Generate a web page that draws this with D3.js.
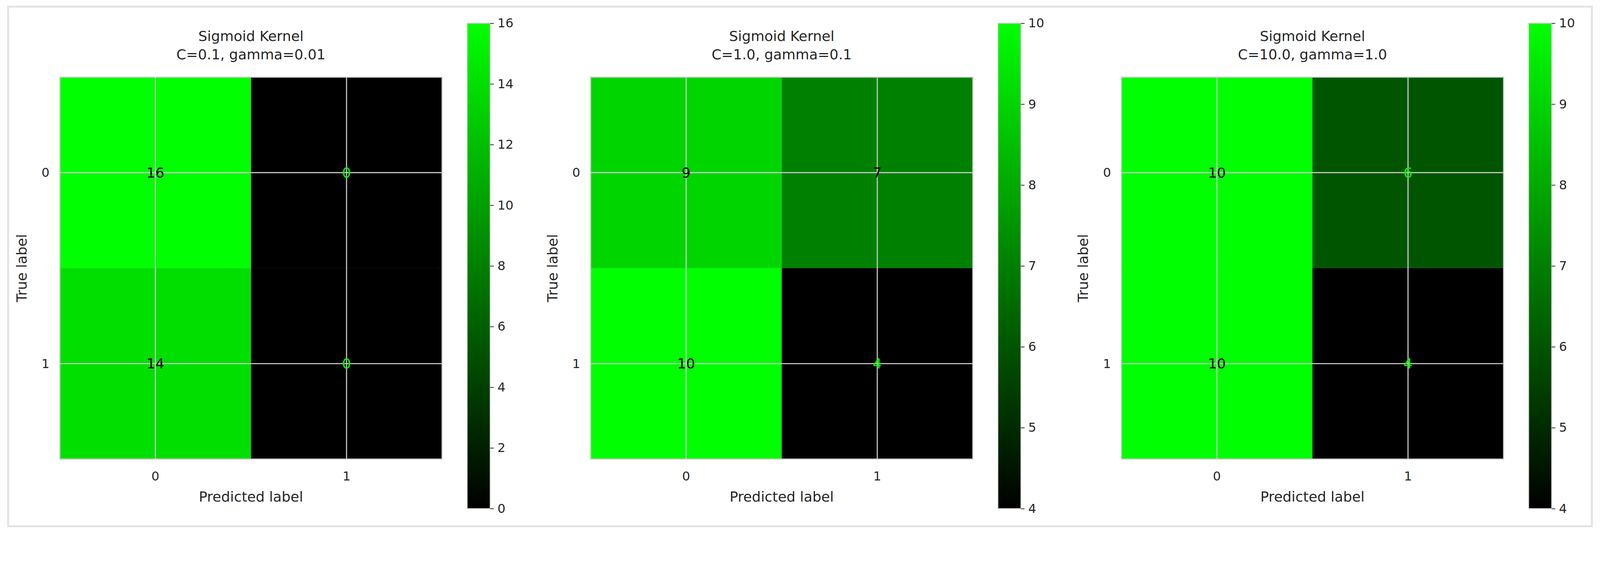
<!DOCTYPE html>
<html><head><meta charset="utf-8">
<script src="https://cdn.jsdelivr.net/npm/d3@7"></script>
<style>html,body{margin:0;padding:0;background:#fff;overflow:hidden;font-family:"DejaVu Sans",sans-serif;}
svg{display:block;width:100vw;height:auto;}</style>
</head><body>
<script>
"use strict";

const titles = ["C=0.1, gamma=0.01", "C=1.0, gamma=0.1", "C=10.0, gamma=1.0"];
const matrices = [
  [[16, 0], [14, 0]],
  [[9, 7], [10, 4]],
  [[10, 6], [10, 4]]
];
const labels = ["0", "1"];

const W = 4332, H = 1468;
const svg = d3.select("body").append("svg")
  .attr("viewBox", `0 0 ${W} ${H}`)
  .attr("preserveAspectRatio", "xMinYMin meet");

svg.append("rect").attr("x", 22).attr("y", 18).attr("width", 4288).attr("height", 1408)
  .attr("fill", "none").attr("stroke", "#e2e2e2").attr("stroke-width", 5);

const panelStep = 1437;
const size = 1035;

matrices.forEach(function(m, p) {
  const ox = 162 + p * panelStep, oy = 209;
  const g = svg.append("g").attr("transform", `translate(${ox},${oy})`);
  const vals = m.flat();
  const vmin = d3.min(vals), vmax = d3.max(vals);
  const color = d3.scaleLinear().domain([vmin, vmax]).range(["#000000", "#00ff00"]);

  const x = d3.scaleBand().domain(labels).range([0, size]);
  const y = d3.scaleBand().domain(labels).range([0, size]);

  m.forEach(function(row, i) {
    row.forEach(function(v, j) {
      g.append("rect").attr("x", x(labels[j])).attr("y", y(labels[i]))
        .attr("width", x.bandwidth()).attr("height", y.bandwidth())
        .attr("fill", color(v));
    });
  });

  // grid lines at tick centres
  labels.forEach(function(l) {
    const c = x(l) + x.bandwidth() / 2;
    g.append("line").attr("x1", c).attr("x2", c).attr("y1", 0).attr("y2", size)
      .attr("stroke", "#c8c8c8").attr("stroke-width", 3);
    g.append("line").attr("y1", c).attr("y2", c).attr("x1", 0).attr("x2", size)
      .attr("stroke", "#c8c8c8").attr("stroke-width", 3);
  });
  g.append("rect").attr("width", size).attr("height", size)
    .attr("fill", "none").attr("stroke", "#d0d0d0").attr("stroke-width", 3);

  // cell text
  const mid = (vmin + vmax) / 2;
  m.forEach(function(row, i) {
    row.forEach(function(v, j) {
      g.append("text")
        .attr("x", x(labels[j]) + x.bandwidth() / 2)
        .attr("y", y(labels[i]) + y.bandwidth() / 2)
        .attr("text-anchor", "middle").attr("dominant-baseline", "central")
        .attr("font-size", 38)
        .attr("fill", v < mid ? "#00ff00" : "#000000")
        .text(v);
    });
  });

  // tick labels
  labels.forEach(function(l) {
    const c = x(l) + x.bandwidth() / 2;
    g.append("text").attr("x", c).attr("y", size + 58).attr("text-anchor", "middle")
      .attr("font-size", 34).attr("fill", "#262626").text(l);
    g.append("text").attr("x", -28).attr("y", c).attr("text-anchor", "end")
      .attr("dominant-baseline", "central").attr("font-size", 34).attr("fill", "#262626").text(l);
  });

  g.append("text").attr("x", size / 2).attr("y", size + 115).attr("text-anchor", "middle")
    .attr("font-size", 38).attr("fill", "#262626").text("Predicted label");
  g.append("text").attr("transform", `translate(${-90},${size / 2}) rotate(-90)`)
    .attr("text-anchor", "middle").attr("font-size", 38).attr("fill", "#262626").text("True label");

  g.append("text").attr("x", size / 2).attr("y", -98).attr("text-anchor", "middle")
    .attr("font-size", 38).attr("fill", "#262626").text("Sigmoid Kernel");
  g.append("text").attr("x", size / 2).attr("y", -48).attr("text-anchor", "middle")
    .attr("font-size", 38).attr("fill", "#262626").text(titles[p]);

  // colorbar
  const cbx = 1265 + p * panelStep, cby = 63, cbw = 62, cbh = 1315;
  const gradId = "grad" + p;
  const grad = svg.append("defs").append("linearGradient").attr("id", gradId)
    .attr("x1", 0).attr("y1", 1).attr("x2", 0).attr("y2", 0);
  grad.append("stop").attr("offset", "0%").attr("stop-color", "#000000");
  grad.append("stop").attr("offset", "100%").attr("stop-color", "#00ff00");
  svg.append("rect").attr("x", cbx).attr("y", cby).attr("width", cbw).attr("height", cbh)
    .attr("fill", `url(#${gradId})`).attr("stroke", "#d0d0d0").attr("stroke-width", 2);
  const cs = d3.scaleLinear().domain([vmin, vmax]).range([cby + cbh, cby]);
  const step = (vmax - vmin) > 8 ? 2 : 1;
  const axis = d3.axisRight(cs).tickValues(d3.range(vmin, vmax + 0.001, step))
    .tickFormat(d3.format("d")).tickSize(10).tickPadding(10);
  const ag = svg.append("g").attr("transform", `translate(${cbx + cbw},0)`).call(axis);
  ag.select(".domain").remove();
  ag.selectAll(".tick line").attr("stroke", "#262626").attr("stroke-width", 2);
  ag.selectAll(".tick text").attr("font-size", 34).attr("fill", "#262626")
    .attr("font-family", "DejaVu Sans, sans-serif");
});
</script>
</body></html>
